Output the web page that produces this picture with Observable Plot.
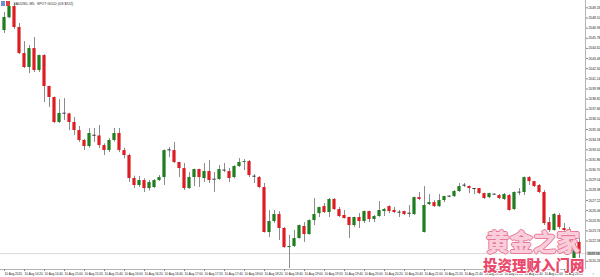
<!DOCTYPE html>
<html><head><meta charset="utf-8">
<script src="https://cdn.jsdelivr.net/npm/d3@7"></script>
<script src="https://cdn.jsdelivr.net/npm/@observablehq/plot@0.6"></script>
<style>
body{margin:0;background:#fff;}
#wrap{position:relative;width:600px;height:277px;overflow:hidden;background:#fff}
#wrap svg{display:block}
.wm{position:absolute;font-family:"Noto Sans CJK SC";font-weight:900;white-space:nowrap;line-height:1}
#wm1{left:486px;top:230px;font-size:23.5px;color:#f9cdd9;
 text-shadow:1px 0 0 #e8799a,-1px 0 0 #e8799a,0 1px 0 #e8799a,0 -1px 0 #e8799a}
#wm2{left:483px;top:258px;font-size:14.5px;color:#ea4a6c;
 text-shadow:1px 0 0 #fff,-1px 0 0 #fff,0 1px 0 #fff,0 -1px 0 #fff}
#icon{position:absolute;left:1px;top:1px;width:9px;height:5px}
</style>
</head><body><div id="wrap"></div>
<script>
const title = "XAUUSD, M5:  SPOT GOLD (US $/OZ)";
const open = [2046.66,2048.12,2049.41,2047.01,2044.03,2042.43,2044.60,2042.09,2043.80,2040.26,
2039.00,2036.14,2037.17,2037.12,2036.14,2035.22,2034.08,2033.39,2034.65,2034.60,
2033.50,2032.93,2034.08,2034.88,2032.93,2032.36,2029.73,2028.93,2029.50,2028.58,
2028.70,2029.50,2029.84,2032.93,2032.93,2031.56,2030.87,2028.58,2029.84,2030.76,
2029.73,2030.53,2029.62,2029.62,2030.66,2030.53,2029.84,2031.10,2031.56,2031.67,
2029.96,2029.84,2028.70,2023.55,2024.81,2025.61,2024.01,2021.83,2021.95,2022.86,
2024.24,2023.32,2024.92,2025.72,2026.52,2025.84,2027.33,2026.18,2025.50,2025.27,
2024.35,2025.27,2024.81,2025.95,2025.04,2025.38,2025.95,2026.52,2026.07,2025.84,
2025.95,2025.72,2025.61,2027.55,2023.55,2026.75,2026.98,2026.52,2027.21,2027.67,
2027.67,2028.24,2028.93,2028.81,2028.58,2028.58,2028.01,2027.55,2027.90,2027.78,
2027.33,2027.78,2026.18,2028.13,2028.13,2029.84,2029.38,2028.93,2028.13,2024.69,
2023.78,2025.50,2024.01,2023.89,2020.57,2022.41];
const high = [2048.72,2049.87,2049.75,2047.46,2045.40,2044.95,2045.86,2043.85,2043.90,2040.30,
2039.05,2038.77,2038.88,2037.20,2036.71,2035.68,2034.20,2035.45,2035.45,2035.80,
2033.70,2034.30,2035.45,2035.45,2033.20,2032.50,2030.00,2029.96,2029.70,2029.50,
2029.60,2030.07,2033.00,2033.27,2033.85,2031.60,2031.45,2030.41,2030.80,2030.80,
2031.45,2031.79,2030.41,2031.22,2031.45,2030.87,2031.20,2032.02,2031.90,2031.79,
2030.19,2029.96,2029.16,2026.07,2026.07,2025.95,2024.12,2023.21,2023.78,2024.40,
2024.69,2025.00,2027.44,2026.45,2026.87,2027.44,2027.44,2026.41,2026.07,2025.30,
2025.30,2025.72,2026.00,2026.00,2025.50,2027.10,2026.30,2026.60,2026.41,2026.07,
2026.00,2026.64,2027.60,2028.13,2028.81,2027.90,2027.21,2027.90,2027.70,2027.75,
2028.35,2029.16,2029.16,2028.90,2028.60,2028.60,2028.05,2028.05,2027.95,2027.90,
2028.01,2027.90,2028.20,2028.58,2029.90,2029.96,2029.40,2029.04,2028.35,2025.27,
2025.72,2025.72,2024.58,2024.12,2022.41,2022.86];
const low = [2046.32,2048.04,2046.78,2043.92,2042.31,2041.74,2041.86,2041.86,2038.42,2037.85,
2036.02,2036.02,2036.36,2035.22,2034.65,2033.85,2032.93,2033.20,2033.85,2033.16,
2032.36,2032.70,2033.90,2032.70,2032.00,2029.27,2028.58,2028.70,2028.13,2028.30,
2028.58,2029.40,2028.93,2032.13,2031.45,2029.84,2028.36,2028.50,2028.81,2028.70,
2029.27,2029.16,2028.13,2029.50,2030.41,2029.27,2029.70,2031.00,2030.64,2029.84,
2029.16,2028.58,2023.50,2022.98,2024.58,2022.63,2021.75,2019.43,2021.85,2022.80,
2022.41,2023.25,2024.35,2025.27,2025.72,2025.27,2026.07,2025.27,2025.10,2022.86,
2024.12,2024.01,2024.58,2024.69,2024.69,2025.30,2025.38,2025.72,2025.72,2025.27,
2025.50,2025.27,2025.50,2027.21,2023.50,2026.64,2026.41,2026.41,2026.98,2027.55,
2027.55,2028.13,2028.70,2028.01,2027.90,2027.90,2027.33,2027.44,2027.80,2027.33,
2027.21,2026.00,2026.07,2027.78,2027.78,2028.93,2028.70,2028.01,2024.35,2023.55,
2023.70,2023.89,2023.70,2021.83,2020.35,2020.57];
const close = [2048.15,2049.41,2047.01,2044.03,2042.43,2044.60,2042.09,2043.80,2040.26,2039.00,
2036.14,2037.17,2037.12,2036.14,2035.22,2034.08,2033.39,2034.88,2034.60,2033.50,
2032.93,2034.08,2034.88,2032.93,2032.36,2029.73,2028.93,2029.50,2028.58,2029.27,
2029.50,2029.84,2032.93,2032.98,2031.56,2030.87,2028.58,2029.84,2030.76,2029.84,
2030.53,2029.50,2029.58,2030.76,2030.62,2029.73,2031.10,2031.56,2031.67,2030.07,
2029.92,2028.70,2023.55,2024.81,2025.61,2024.01,2021.83,2021.95,2022.86,2024.35,
2023.32,2024.92,2025.61,2026.41,2025.84,2027.33,2026.18,2025.38,2025.15,2024.35,
2025.27,2024.81,2025.95,2025.04,2025.38,2026.07,2026.18,2025.95,2025.84,2025.80,
2025.61,2025.68,2027.55,2027.33,2026.64,2026.98,2026.52,2027.21,2027.67,2027.64,
2028.24,2028.81,2028.90,2028.58,2028.47,2028.01,2027.44,2028.01,2027.87,2027.44,
2027.90,2026.07,2028.13,2028.10,2029.84,2029.38,2028.81,2028.13,2024.58,2023.78,
2025.61,2024.12,2023.78,2022.06,2022.29,2021.14];
const timeLabels = ["10 Aug 2020","10 Aug 14:20","10 Aug 14:40","10 Aug 15:00","10 Aug 15:20",
"10 Aug 15:40","10 Aug 16:00","10 Aug 16:20","10 Aug 16:40","10 Aug 17:00","10 Aug 17:20",
"10 Aug 17:40","10 Aug 18:00","10 Aug 18:20","10 Aug 18:40","10 Aug 19:00","10 Aug 19:20",
"10 Aug 19:40","10 Aug 20:00","10 Aug 20:20","10 Aug 20:40","10 Aug 21:00","10 Aug 21:20",
"10 Aug 21:40","10 Aug 22:00","10 Aug 22:20","10 Aug 22:40","10 Aug 23:00","10 Aug 23:20"];
const priceTicks = [2049.26,2048.10,2046.94,2045.78,2044.62,2043.46,2042.30,2041.14,2039.98,
2038.82,2037.66,2036.50,2035.34,2034.18,2033.02,2031.86,2030.70,2029.54,2028.38,2027.22,
2026.06,2024.90,2023.74,2022.58,2020.26];
const bid = 2021.14;

const candles = open.map((o, i) => ({i, o, h: high[i], l: low[i], c: close[i]}));
const yTop = 2050.10, yBottom = 2019.32, xLeft = -0.8, xRight = 116.2;
const bodyLo = d => Math.abs(d.c - d.o) < 0.11 ? (d.o + d.c) / 2 - 0.057 : Math.min(d.o, d.c);
const bodyHi = d => Math.abs(d.c - d.o) < 0.11 ? (d.o + d.c) / 2 + 0.057 : Math.max(d.o, d.c);
const bodyColor = d => Math.abs(d.c - d.o) < 0.11 ? "#333333" : (d.c > d.o ? "#1f7d1f" : "#dc1e24");
const tickIdx = timeLabels.map((_, k) => 4 * k);

const chart = Plot.plot({
  width: 600, height: 277,
  marginTop: 0, marginLeft: 0, marginRight: 15, marginBottom: 8,
  x: {type: "linear", domain: [xLeft, xRight]},
  y: {domain: [yBottom, yTop]},
  style: {fontFamily: "Liberation Sans", background: "#fff", color: "#222"},
  marks: [
    Plot.ruleY([bid], {stroke: "#cfcfcf", strokeWidth: 0.8}),
    Plot.ruleX(candles, {x: "i", y1: "l", y2: "h", stroke: "#8c8c8c", strokeWidth: 1}),
    Plot.rect(candles, {x1: d => d.i - 0.32, x2: d => d.i + 0.32, y1: bodyLo, y2: bodyHi, fill: bodyColor}),
    Plot.ruleX([xRight], {stroke: "#b4b4b4", strokeWidth: 1}),
    Plot.ruleY([yBottom], {stroke: "#b4b4b4", strokeWidth: 1}),
    Plot.axisY(priceTicks, {anchor: "right", tickSize: 2, tickPadding: 1, fontSize: 3.3,
      tickFormat: d => d.toFixed(2), stroke: "#888"}),
    Plot.axisX(tickIdx, {anchor: "bottom", tickSize: 2, tickPadding: 1, fontSize: 3.1,
      textAnchor: "start", tickFormat: d => timeLabels[d / 4], stroke: "#888"}),
    Plot.rect([bid], {x1: xRight + 0.3, x2: xRight + 3, y1: d => d - 0.17, y2: d => d + 0.17, fill: "#b9b9b9"}),
    Plot.text([bid], {x: xRight + 0.45, y: d => d, text: d => d.toFixed(2), fontSize: 3.3, textAnchor: "start", fill: "#111"}),
    Plot.text([title], {frameAnchor: "top-left", dx: 13, dy: 2.5, fontSize: 3.4, textAnchor: "start", lineAnchor: "top", fill: "#222"})
  ]
});
const wrap = document.getElementById("wrap");
wrap.appendChild(chart);
wrap.insertAdjacentHTML("beforeend",
  '<svg id="icon" viewBox="0 0 9 5"><rect x="0" y="0" width="4" height="5" fill="#6f8fd8"/><rect x="5" y="0" width="4" height="5" fill="#d94040"/></svg>' +
  '<div class="wm" id="wm1">黄金之家</div><div class="wm" id="wm2">投资理财入门网</div>');
</script>
</body></html>
